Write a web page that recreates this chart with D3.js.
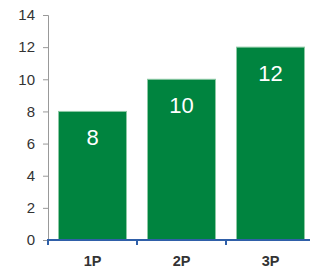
<!DOCTYPE html>
<html><head><meta charset="utf-8">
<script src="https://cdn.jsdelivr.net/npm/d3@7"></script>
<style>body{margin:0;background:#fff}svg{display:block}</style>
</head><body><svg id="c" width="310" height="268"></svg>
<script>
const categories = ["1P", "2P", "3P"];
const values = [8, 10, 12];
const yTicks = [0, 2, 4, 6, 8, 10, 12, 14];

const svg = d3.select("#c");
const x = d3.scaleBand().domain(categories).range([48, 315]).paddingInner(0.236).paddingOuter(0.118);
const y = d3.scaleLinear().domain([0, 14]).range([240, 15]);

// bars
svg.selectAll("rect.bar").data(values).join("rect")
  .attr("class", "bar")
  .attr("x", (d, i) => x(categories[i]))
  .attr("width", x.bandwidth())
  .attr("y", d => y(d))
  .attr("height", d => y(0) - y(d))
  .attr("fill", "#00843f")
  .attr("stroke", "#8cc9a4")
  .attr("stroke-width", 1);

// value labels
svg.selectAll("text.val").data(values).join("text")
  .attr("class", "val")
  .attr("x", (d, i) => x(categories[i]) + x.bandwidth() / 2)
  .attr("y", d => y(d) + 34)
  .attr("text-anchor", "middle")
  .attr("fill", "#fff")
  .attr("font-family", "Liberation Sans, Arial, sans-serif")
  .attr("font-size", 22)
  .text(d => d);

// y axis
const yAxis = d3.axisLeft(y).tickValues(yTicks).tickSize(5).tickPadding(8);
const gy = svg.append("g").attr("transform", "translate(48,0)").call(yAxis);
gy.select(".domain").attr("stroke", "#999");
gy.selectAll(".tick line").attr("stroke", "#999");
gy.selectAll(".tick text").attr("fill", "#333")
  .attr("font-family", "Liberation Sans, Arial, sans-serif").attr("font-size", 15);

// x axis
const xAxis = d3.axisBottom(x).tickSize(0).tickPadding(16);
const gx = svg.append("g").attr("transform", "translate(0,240)").call(xAxis);
gx.select(".domain").remove();
gx.selectAll(".tick text").attr("fill", "#333")
  .attr("font-family", "Liberation Sans, Arial, sans-serif").attr("font-size", 14.5).attr("font-weight", "bold");
gx.append("line").attr("x1", 47).attr("x2", 315).attr("y1", 0).attr("y2", 0)
  .attr("stroke", "#2f5fa8").attr("stroke-width", 2);
const bounds = categories.map(c => x(c) - x.step() * x.paddingInner() / 2);
gx.selectAll("line.sep").data(bounds).join("line").attr("class", "sep")
  .attr("x1", d => d).attr("x2", d => d).attr("y1", 0).attr("y2", 5)
  .attr("stroke", "#2f5fa8").attr("stroke-width", 2);
</script></body></html>
